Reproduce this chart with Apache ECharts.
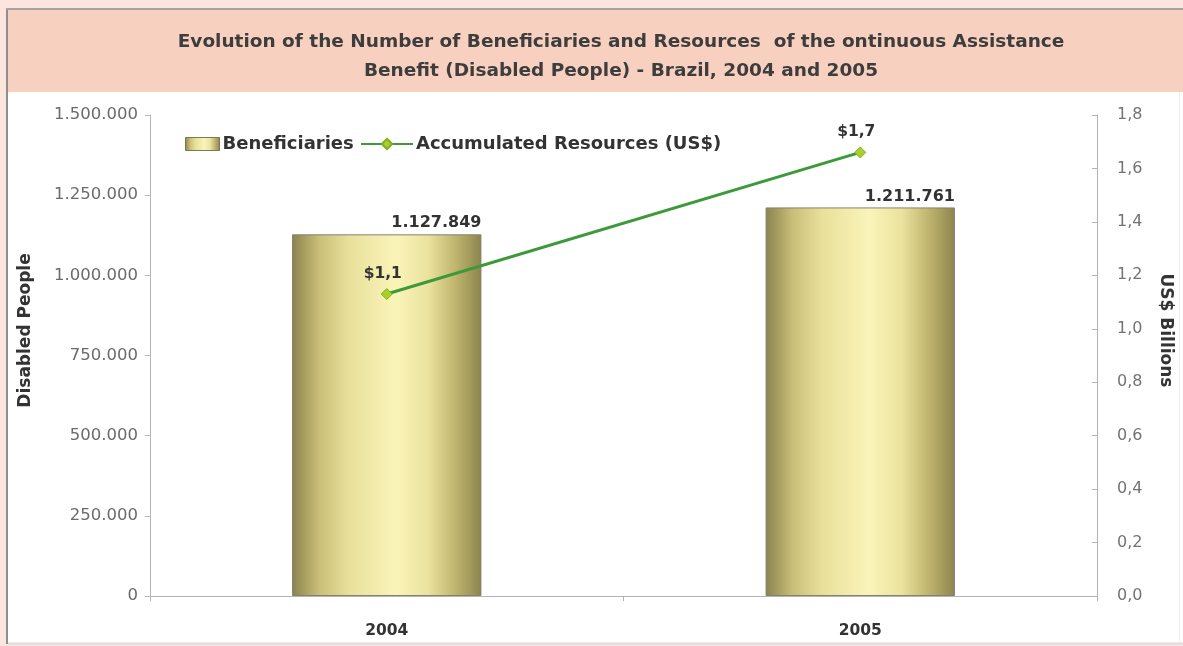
<!DOCTYPE html>
<html>
<head>
<meta charset="utf-8">
<title>Beneficiaries and Resources - Brazil, 2004 and 2005</title>
<script src="https://cdn.jsdelivr.net/npm/echarts@6/dist/echarts.min.js"></script>
<style>
  html, body { margin: 0; padding: 0; background: #ffffff; }
  #chart { width: 1183px; height: 646px; }
</style>
</head>
<body>
<div id="chart"></div>
<script>
// Years on the category axis
const years = ['2004', '2005'];
// Number of disabled beneficiaries (left axis)
const beneficiaries = [1127849, 1211761];
// Accumulated resources, US$ billions (right axis)
const resources = [1.13, 1.66];
// Left axis ticks
const peopleTicks = { min: 0, max: 1500000, interval: 250000 };
// Right axis ticks
const billionTicks = { min: 0, max: 1.8, interval: 0.2 };

const seriesNames = ['Beneficiaries', 'Accumulated Resources (US$)'];
const titleText = 'Evolution of the Number of Beneficiaries and Resources  of the ontinuous Assistance\nBenefit (Disabled People) - Brazil, 2004 and 2005';

const FONT = 'DejaVu Sans, Verdana, sans-serif';

// Dotted thousands separator: 1127849 -> 1.127.849
function dotThousands(v) {
  return String(Math.round(v)).replace(/\B(?=(\d{3})+(?!\d))/g, '.');
}
// Decimal comma with one digit: 1.2 -> 1,2
function commaDecimal(v) {
  return v.toFixed(1).replace('.', ',');
}

const barFill = new echarts.graphic.LinearGradient(0, 0, 1, 0, [
  { offset: 0.00, color: '#8b8450' },
  { offset: 0.06, color: '#a49b5e' },
  { offset: 0.14, color: '#c8be78' },
  { offset: 0.30, color: '#e9e09b' },
  { offset: 0.55, color: '#faf4b9' },
  { offset: 0.72, color: '#ebe29d' },
  { offset: 0.87, color: '#bcb26c' },
  { offset: 1.00, color: '#8d844e' }
]);

const legendText = { fontFamily: FONT, fontSize: 18, fontWeight: 'bold', color: '#333333', padding: [0, 0, 0, -2] };

const chart = echarts.init(document.getElementById('chart'), null, { renderer: 'canvas' });

chart.setOption({
  backgroundColor: '#ffffff',
  animation: false,
  graphic: [
    { type: 'rect', z: -100, silent: true, shape: { x: 0, y: 0, width: 1183, height: 646 }, style: { fill: '#fce5dc' } },
    { type: 'rect', z: -99, silent: true, shape: { x: 7, y: 9, width: 1176, height: 634 }, style: { fill: '#ffffff' } },
    { type: 'rect', z: -98, silent: true, shape: { x: 8, y: 10, width: 1175, height: 82 }, style: { fill: '#f8d0c0' } },
    { type: 'line', z: -97, silent: true, shape: { x1: 7, y1: 8, x2: 7, y2: 644 }, style: { stroke: '#8e8e8e', lineWidth: 2 } },
    { type: 'line', z: -97, silent: true, shape: { x1: 6, y1: 9, x2: 1183, y2: 9 }, style: { stroke: '#a3a3a3', lineWidth: 2 } },
    { type: 'line', z: -97, silent: true, shape: { x1: 8, y1: 643.5, x2: 1183, y2: 643.5 }, style: { stroke: '#dcdcdc', lineWidth: 2 } },
    { type: 'line', z: -97, silent: true, shape: { x1: 1179.5, y1: 92, x2: 1179.5, y2: 643 }, style: { stroke: '#eeeeee', lineWidth: 1 } }
  ],
  title: {
    text: titleText,
    left: 621,
    top: 28,
    padding: 0,
    textAlign: 'center',
    textStyle: {
      fontFamily: FONT,
      fontSize: 18.5,
      fontWeight: 'bold',
      color: '#3d3d3d',
      lineHeight: 29
    }
  },
  legend: [
    {
      left: 180,
      top: 130,
      itemWidth: 34,
      itemHeight: 13,
      data: [
        { name: seriesNames[0], icon: 'rect', itemStyle: { color: barFill, borderColor: '#7a7660', borderWidth: 1 } }
      ],
      textStyle: legendText
    },
    {
      left: 355,
      top: 130,
      itemWidth: 52,
      itemHeight: 13,
      data: [{ name: seriesNames[1] }],
      textStyle: legendText
    }
  ],
  grid: { left: 150, right: 86, top: 115, bottom: 50 },
  xAxis: {
    type: 'category',
    data: years,
    axisLine: { lineStyle: { color: '#b4b4b4', width: 1 } },
    axisTick: { show: true, length: 5, lineStyle: { color: '#b4b4b4' } },
    axisLabel: { margin: 27, fontFamily: FONT, fontSize: 15.5, fontWeight: 'bold', color: '#333333' }
  },
  yAxis: [
    {
      type: 'value',
      position: 'left',
      min: peopleTicks.min,
      max: peopleTicks.max,
      interval: peopleTicks.interval,
      name: 'Disabled People',
      nameLocation: 'middle',
      nameGap: 116,
      nameTextStyle: { fontFamily: FONT, fontSize: 17, fontWeight: 'bold', color: '#333333', padding: [0, 0, 0, 50] },
      axisLine: { show: true, lineStyle: { color: '#b4b4b4' } },
      axisTick: { show: true, length: 5, lineStyle: { color: '#b4b4b4' } },
      splitLine: { show: false },
      axisLabel: { margin: 12, fontFamily: FONT, fontSize: 16.5, color: '#6b6b6b', formatter: dotThousands }
    },
    {
      type: 'value',
      position: 'right',
      min: billionTicks.min,
      max: billionTicks.max,
      interval: billionTicks.interval,
      name: 'US$ Billions',
      nameLocation: 'middle',
      nameRotate: -90,
      nameGap: 60,
      nameTextStyle: { fontFamily: FONT, fontSize: 17, fontWeight: 'bold', color: '#333333', padding: [0, 50, 0, 0] },
      axisLine: { show: true, lineStyle: { color: '#b4b4b4' } },
      axisTick: { show: true, inside: true, length: 5, lineStyle: { color: '#b4b4b4' } },
      splitLine: { show: false },
      axisLabel: { margin: 20, fontFamily: FONT, fontSize: 16, color: '#737373', formatter: commaDecimal }
    }
  ],
  series: [
    {
      name: seriesNames[0],
      type: 'bar',
      yAxisIndex: 0,
      data: beneficiaries,
      barWidth: '40%',
      itemStyle: { color: barFill, borderColor: '#858072', borderWidth: 1 },
      label: {
        show: true,
        position: ['100%', -3],
        align: 'right',
        verticalAlign: 'bottom',
        fontFamily: FONT,
        fontSize: 16,
        fontWeight: 'bold',
        color: '#333333',
        formatter: p => dotThousands(p.value)
      }
    },
    {
      name: seriesNames[1],
      type: 'line',
      yAxisIndex: 1,
      data: resources,
      symbol: 'diamond',
      symbolSize: 11,
      lineStyle: { color: '#3c9a3a', width: 3 },
      itemStyle: { color: '#a8cf2a', borderColor: '#7fae20', borderWidth: 1 },
      label: {
        show: true,
        position: 'top',
        distance: 6,
        offset: [-4, 0],
        fontFamily: FONT,
        fontSize: 15.5,
        fontWeight: 'bold',
        color: '#333333',
        formatter: p => '$' + commaDecimal(p.value)
      },
      z: 5
    }
  ]
});
</script>
</body>
</html>
